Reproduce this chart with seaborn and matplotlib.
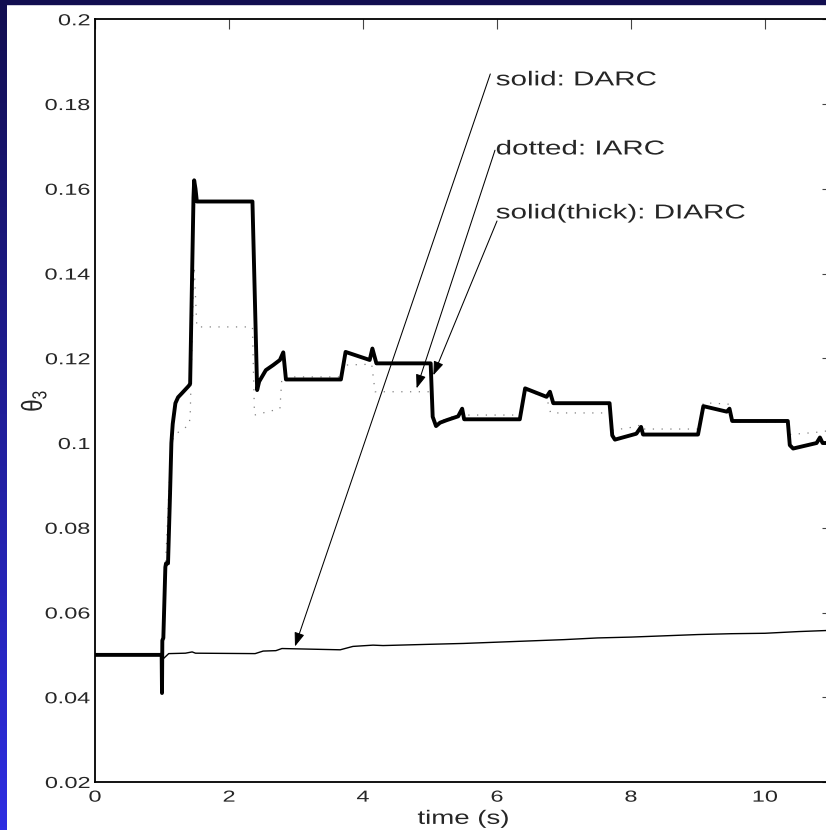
import numpy as np
import matplotlib
matplotlib.use("Agg")
import matplotlib.pyplot as plt
import seaborn as sns
from matplotlib.patheffects import AbstractPathEffect
from matplotlib.transforms import Affine2D
from matplotlib.patches import Rectangle
from matplotlib.colors import LinearSegmentedColormap

sns.set_style("white")
plt.rcParams['font.family'] = ['Liberation Sans', 'DejaVu Sans']
plt.rcParams['mathtext.fontset'] = 'custom'
plt.rcParams['mathtext.rm'] = 'Liberation Sans'
plt.rcParams['mathtext.it'] = 'Liberation Sans'

# DIARC (thick solid)
t_diarc = [0, 0.995, 1.0, 1.005, 1.02, 1.05, 1.06, 1.09, 1.12, 1.14, 1.16, 1.2, 1.24, 1.3,
           1.4, 1.42, 1.47, 1.48, 1.50, 1.52, 2.35, 2.42, 2.45, 2.55, 2.66, 2.76, 2.81,
           2.85, 3.67, 3.74, 4.10, 4.14, 4.20, 5.01, 5.04, 5.09, 5.15, 5.25, 5.42, 5.48,
           5.51, 6.34, 6.42, 6.74, 6.79, 6.84, 7.68, 7.72, 7.76, 8.08, 8.15, 8.18, 9.00,
           9.08, 9.43, 9.47, 9.51, 10.34, 10.37, 10.42, 10.77, 10.82, 10.86, 11.0]
y_diarc = [0.05, 0.05, 0.041, 0.0534, 0.054, 0.0707, 0.0716, 0.0716, 0.088, 0.100, 0.1045,
           0.1094, 0.1108, 0.1118, 0.1135, 0.114, 0.158, 0.162, 0.160, 0.157, 0.157, 0.1125,
           0.1145, 0.1172, 0.1184, 0.1196, 0.1214, 0.115, 0.115, 0.1215, 0.1196, 0.1223,
           0.1188, 0.1188, 0.1062, 0.1040, 0.1048, 0.1054, 0.1063, 0.1081, 0.1056, 0.1056,
           0.1129, 0.1109, 0.1121, 0.1094, 0.1094, 0.1018, 0.1008, 0.1022, 0.1038, 0.102,
           0.102, 0.1087, 0.1074, 0.1081, 0.1052, 0.1052, 0.0995, 0.0987, 0.1000, 0.1013,
           0.1000, 0.1000]

# IARC (dotted)
t_iarc = [0, 0.995, 1.0, 1.005, 1.05, 1.10, 1.14, 1.17, 1.22, 1.40, 1.42, 1.47, 1.48, 1.52,
          2.35, 2.38, 2.76, 2.79, 3.67, 3.73, 4.13, 4.18, 5.00, 5.04, 5.09, 5.25, 5.45,
          5.50, 6.34, 6.42, 6.74, 6.80, 7.68, 7.72, 8.05, 8.15, 8.18, 9.00, 9.08, 9.45,
          9.51, 10.34, 10.37, 10.75, 11.0]
y_iarc = [0.05, 0.05, 0.041, 0.0534, 0.070, 0.088, 0.0985, 0.1015, 0.1023, 0.1042, 0.106,
          0.138, 0.1416, 0.1274, 0.1274, 0.1066, 0.1081, 0.1156, 0.1156, 0.1184, 0.1186,
          0.1121, 0.1121, 0.1060, 0.1045, 0.1058, 0.1068, 0.1066, 0.1066, 0.1125, 0.1108,
          0.1071, 0.1071, 0.1030, 0.1038, 0.1043, 0.1033, 0.1033, 0.1095, 0.1092, 0.1050,
          0.1050, 0.1020, 0.1025, 0.1030]

# DARC (thin solid)
t_darc = [0, 1.0, 1.02, 1.10, 1.35, 1.45, 1.5, 2.39, 2.51, 2.7, 2.79, 3.66, 3.85, 4.15,
          4.3, 5.0, 5.5, 6.0, 6.5, 7.0, 7.5, 8.0, 8.5, 9.0, 9.5, 10.0, 10.5, 11.0]
y_darc = [0.05, 0.05, 0.0491, 0.0503, 0.0504, 0.0507, 0.0504, 0.0503, 0.0509, 0.051, 0.0515,
          0.0512, 0.0520, 0.0523, 0.0522, 0.0525, 0.0527, 0.053, 0.0533, 0.0536, 0.054,
          0.0542, 0.0545, 0.0548, 0.055, 0.0551, 0.0555, 0.0558]

labels = ["solid: DARC", "dotted: IARC", "solid(thick): DIARC"]
label_xy = [(5.985, 0.1857), (5.985, 0.1694), (5.985, 0.1543)]
arrow_tail = [(5.90, 0.1871), (5.97, 0.1691), (6.00, 0.1524)]
arrow_tip = [(2.985, 0.0520), (4.80, 0.1129), (5.05, 0.1160)]

xticks = [0, 2, 4, 6, 8, 10]
yticks = [0.02, 0.04, 0.06, 0.08, 0.1, 0.12, 0.14, 0.16, 0.18, 0.2]


class Widen(AbstractPathEffect):
    """stretch glyphs like the wide export in the original"""
    def __init__(self, sx=1.45, sy=1.0, fx=0.0, fy=0.0):
        super().__init__()
        self.sx, self.sy, self.fx, self.fy = sx, sy, fx, fy

    def draw_path(self, renderer, gc, tpath, affine, rgbFace=None):
        ext = tpath.get_extents()
        x0 = ext.x0 + self.fx * ext.width
        y0 = ext.y0 + self.fy * ext.height
        tr = Affine2D().translate(-x0, -y0).scale(self.sx, self.sy).translate(x0, y0) + affine
        renderer.draw_path(gc, tpath, tr, rgbFace)


W, H = 826, 830
fig = plt.figure(figsize=(W / 100, H / 100), dpi=100, facecolor='white')

# blue frame strips
strip = fig.add_axes([0, 0, 7 / W, 1])
cmap = LinearSegmentedColormap.from_list('strip', ['#120e50', '#2e2ee2'])
strip.imshow(np.linspace(0, 1, 256)[:, None], aspect='auto', cmap=cmap)
strip.axis('off')
fig.patches.append(Rectangle((0, 1 - 4 / H), 1, 4 / H, transform=fig.transFigure,
                             color='#120e50', zorder=0))

ax = fig.add_axes([95 / W, (H - 782) / H, (832 - 95) / W, (782 - 19.3) / H])

sns.lineplot(x=t_iarc, y=y_iarc, ax=ax, color='#808080', lw=0.9,
             linestyle=(0, (1, 6)), estimator=None, sort=False)
sns.lineplot(x=t_darc, y=y_darc, ax=ax, color='black', lw=1.0, estimator=None, sort=False)
sns.lineplot(x=t_diarc, y=y_diarc, ax=ax, color='black', lw=2.8, estimator=None, sort=False)

ax.set_xlim(0, 11)
ax.set_ylim(0.02, 0.2)
ax.set_xticks(xticks, [f'{v:g}' for v in xticks])
ax.set_yticks(yticks, [f'{v:g}' for v in yticks])
ax.tick_params(direction='in', top=True, right=True, length=7, width=0.8, color='#444444',
               labelsize=11.5)
ax.tick_params(axis='x', pad=5.5)
ax.tick_params(axis='y', pad=3.5)
for s in ax.spines.values():
    s.set_linewidth(1.3)
    s.set_color('black')

for lbl in ax.get_xticklabels():
    lbl.set_path_effects([Widen(1.47, fx=0.5)])
for lbl in ax.get_yticklabels():
    lbl.set_path_effects([Widen(1.47, fx=1.0)])

ax.set_xlabel('time (s)', fontsize=14, labelpad=4.5)
ax.xaxis.label.set_path_effects([Widen(1.42, fx=0.5)])
ax.set_ylabel(r'$\theta_3$', fontsize=16)
ax.yaxis.set_label_coords(-0.083, 0.5)
ax.yaxis.label.set_verticalalignment('center')
ax.yaxis.label.set_path_effects([Widen(1.0, sy=1.3, fy=0.5)])

for txt, pos, tail, tip in zip(labels, label_xy, arrow_tail, arrow_tip):
    ax.text(pos[0], pos[1], txt, fontsize=14.5, ha='left', va='center',
            path_effects=[Widen(1.47, fx=0.0)])
    ax.annotate('', xy=tip, xytext=tail,
                arrowprops=dict(arrowstyle='-|>,head_length=0.6,head_width=0.22',
                                mutation_scale=14, lw=0.75, color='black',
                                shrinkA=0, shrinkB=0))

fig.savefig('out.png', dpi=100, facecolor='white')
